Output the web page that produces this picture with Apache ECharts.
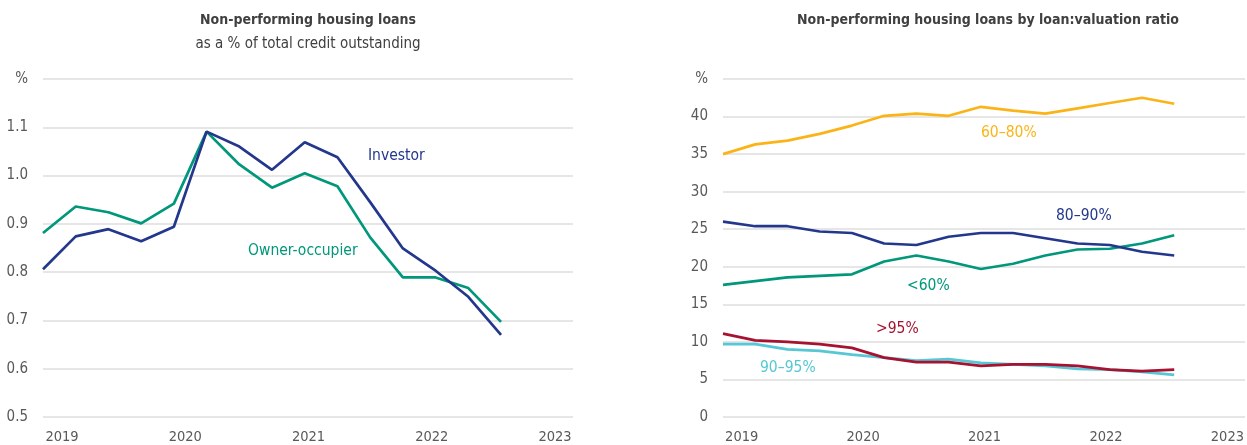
<!DOCTYPE html>
<html>
<head>
<meta charset="utf-8">
<script src="https://cdn.jsdelivr.net/npm/echarts@6/dist/echarts.min.js"></script>
<style>
  html, body { margin: 0; padding: 0; background: #fff; }
  #chart { width: 1247px; height: 445px; }
</style>
</head>
<body>
<div id="chart"></div>
<script>
// quarterly observations, Dec-18 .. Jun-22
const quarters = ['Dec-18', 'Mar-19', 'Jun-19', 'Sep-19', 'Dec-19', 'Mar-20', 'Jun-20', 'Sep-20',
  'Dec-20', 'Mar-21', 'Jun-21', 'Sep-21', 'Dec-21', 'Mar-22', 'Jun-22']
const years = [2019, 2020, 2021, 2022, 2023]

// left panel: % of total credit outstanding
const investor = [0.806, 0.874, 0.889, 0.864, 0.894, 1.091, 1.060, 1.012, 1.069, 1.038, 0.945, 0.849, 0.803, 0.749, 0.670]
const ownerOccupier = [0.881, 0.936, 0.924, 0.901, 0.942, 1.091, 1.023, 0.975, 1.005, 0.978, 0.872, 0.789, 0.789, 0.767, 0.697]

// right panel: by loan:valuation ratio
const lvr60to80 = [35.0, 36.3, 36.8, 37.7, 38.8, 40.1, 40.4, 40.1, 41.3, 40.8, 40.4, 41.1, 41.8, 42.5, 41.7]
const lvr80to90 = [26.0, 25.4, 25.4, 24.7, 24.5, 23.1, 22.9, 24.0, 24.5, 24.5, 23.8, 23.1, 22.9, 22.0, 21.5]
const lvrUnder60 = [17.6, 18.1, 18.6, 18.8, 19.0, 20.7, 21.5, 20.7, 19.7, 20.4, 21.5, 22.3, 22.4, 23.1, 24.2]
const lvrOver95 = [11.1, 10.2, 10.0, 9.7, 9.2, 7.9, 7.3, 7.3, 6.8, 7.0, 7.0, 6.8, 6.3, 6.1, 6.3]
const lvr90to95 = [9.7, 9.7, 9.0, 8.8, 8.3, 7.9, 7.5, 7.7, 7.2, 7.0, 6.8, 6.4, 6.3, 6.0, 5.6]

const FONT = "'DejaVu Sans Condensed', 'Liberation Sans', sans-serif"
const GREY = '#595959'
const C = {
  navy: '#23378c',
  teal: '#00977a',
  amber: '#fbb418',
  crimson: '#a6122f',
  cyan: '#55c7d5'
}

const chart = echarts.init(document.getElementById('chart'))

const pts = (arr) => arr.map((v, i) => [i, v])

function lineSeries(name, data, color, grid) {
  return {
    name: name,
    type: 'line',
    xAxisIndex: grid * 2,
    yAxisIndex: grid,
    data: pts(data),
    symbol: 'none',
    lineStyle: { color: color, width: 2.7 },
    z: 3
  }
}

function dataAxis(grid) {
  return { gridIndex: grid, type: 'value', min: 0, max: 16.2, show: false }
}

function yearAxis(grid) {
  return {
    gridIndex: grid,
    type: 'value',
    position: 'bottom',
    min: 2018.846,
    max: 2023.146,
    axisLine: { show: false },
    axisTick: { show: false },
    splitLine: { show: false },
    axisLabel: {
      customValues: years,
      color: GREY,
      fontFamily: FONT,
      fontSize: 14.5,
      margin: 13,
      formatter: (v) => String(v)
    }
  }
}

function valueAxis(grid, min, max, interval, digits) {
  return {
    gridIndex: grid,
    type: 'value',
    min: min,
    max: max,
    interval: interval,
    axisLine: { show: false },
    axisTick: { show: false },
    splitLine: { lineStyle: { color: '#e6e6e6', width: 2 } },
    axisLabel: {
      color: GREY,
      fontFamily: FONT,
      fontSize: 15,
      margin: 15,
      formatter: (v) => (Math.abs(v - max) < 1e-9 ? '%' : v.toFixed(digits))
    }
  }
}

function note(text, x, y, color) {
  return {
    type: 'text',
    left: x,
    top: y,
    style: { text: text, fill: color, font: '15.5px ' + FONT }
  }
}

const titleStyle = { color: '#404040', fontFamily: FONT, fontSize: 14, fontWeight: 'bold' }
const subStyle = { color: '#404040', fontFamily: FONT, fontSize: 15 }

chart.setOption({
  animation: false,
  title: [
    {
      text: 'Non-performing housing loans',
      subtext: 'as a % of total credit outstanding',
      left: 308, top: 13, textAlign: 'center', padding: 0, itemGap: 10,
      textStyle: titleStyle, subtextStyle: subStyle
    },
    {
      text: 'Non-performing housing loans by loan:valuation ratio',
      left: 988, top: 13, textAlign: 'center', padding: 0,
      textStyle: titleStyle
    }
  ],
  grid: [
    { left: 43, top: 79, width: 530, height: 339.5 },
    { left: 723, top: 79, width: 530, height: 339.5 }
  ],
  xAxis: [dataAxis(0), yearAxis(0), dataAxis(1), yearAxis(1)],
  yAxis: [valueAxis(0, 0.5, 1.2, 0.1, 1), valueAxis(1, 0, 45, 5, 0)],
  series: [
    lineSeries('Owner-occupier', ownerOccupier, C.teal, 0),
    lineSeries('Investor', investor, C.navy, 0),
    lineSeries('60–80%', lvr60to80, C.amber, 1),
    lineSeries('<60%', lvrUnder60, C.teal, 1),
    lineSeries('80–90%', lvr80to90, C.navy, 1),
    lineSeries('90–95%', lvr90to95, C.cyan, 1),
    lineSeries('>95%', lvrOver95, C.crimson, 1)
  ],
  graphic: [
    note('Investor', 368, 148, C.navy),
    note('Owner-occupier', 248, 243, C.teal),
    note('60–80%', 981, 125, C.amber),
    note('80–90%', 1056, 208, C.navy),
    note('<60%', 907, 278, C.teal),
    note('>95%', 876, 321, C.crimson),
    note('90–95%', 760, 360, C.cyan)
  ]
})
</script>
</body>
</html>
